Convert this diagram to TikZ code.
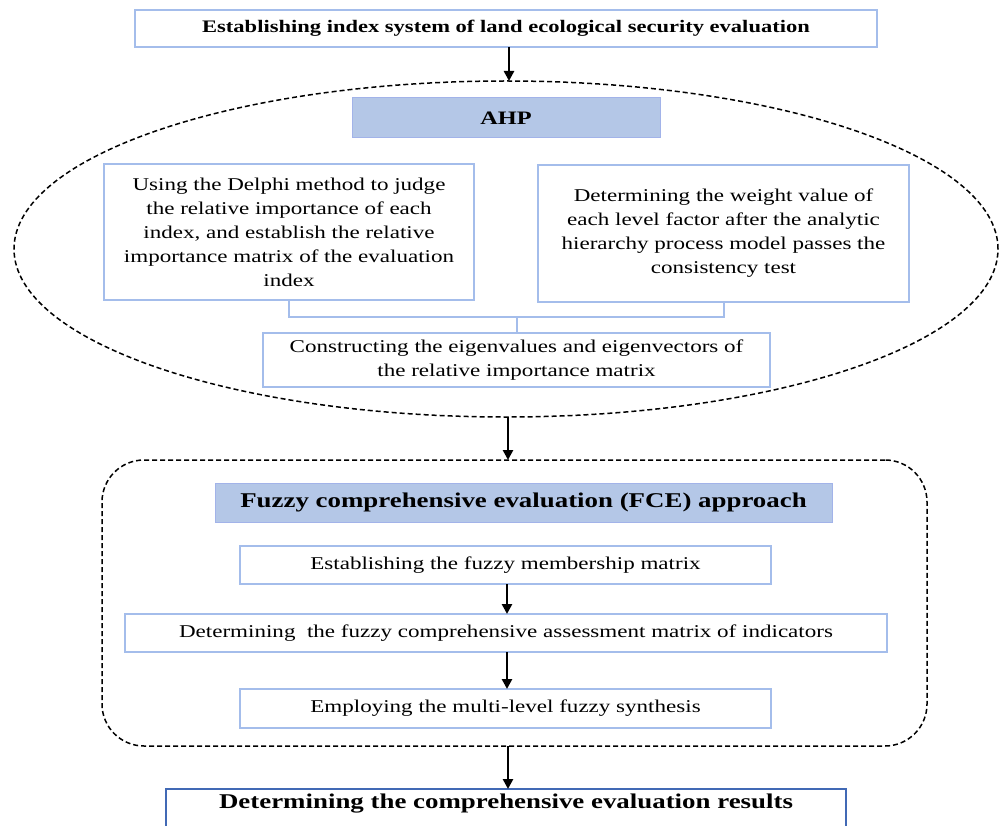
\documentclass[tikz,border=0pt]{standalone}
\usepackage{fontspec}
\setmainfont{Liberation Serif}[FakeStretch=1.28]
\usetikzlibrary{arrows.meta,shapes.geometric}
\definecolor{bord}{HTML}{A4BDEB}
\definecolor{fillb}{HTML}{B4C7E7}
\definecolor{darkb}{HTML}{4169B5}
\tikzset{
  box/.style={draw=bord, line width=2pt, fill=white, inner sep=0pt, outer sep=0pt, align=center,
    font=\fontsize{18pt}{24pt}\selectfont},
  headbox/.style={fill=fillb, draw=fillb!90!blue, line width=1pt, inner sep=0pt, outer sep=0pt, align=center},
  container/.style={draw=black, line width=1.5pt, dash pattern=on 5pt off 3pt, inner sep=0pt, outer sep=0pt},
  arr/.style={draw=black, line width=2.5pt, -{Triangle[length=10pt,width=10pt]}},
  link/.style={draw=bord, line width=2pt}
}
\begin{document}
\begin{tikzpicture}[x=1pt,y=-1pt]
\useasboundingbox (0,0) rectangle (1003,826);
\clip (0,0) rectangle (1003,826);
\fill[white] (0,0) rectangle (1003,826);

% top box
\node[box, minimum width=742pt, minimum height=37pt, font=\fontsize{17.6pt}{22pt}\selectfont\bfseries] (top) at (506,28.5)
  {Establishing index system of land ecological security evaluation};

% AHP ellipse
\node[container, ellipse, minimum width=984pt, minimum height=336pt] (ell) at (506,249) {};
\node[headbox, minimum width=308pt, minimum height=40pt, font=\fontsize{19pt}{24pt}\selectfont\bfseries] (ahp) at (506,118) {AHP};

\node[box, minimum width=370pt, minimum height=136pt] (left) at (289,232)
  {Using the Delphi method to judge\\the relative importance of each\\index, and establish the relative\\importance matrix of the evaluation\\index};
\node[box, minimum width=371pt, minimum height=137pt] (right) at (723.5,233.5)
  {Determining the weight value of\\each level factor after the analytic\\hierarchy process model passes the\\consistency test};
\node[box, minimum width=507pt, minimum height=54pt] (eig) at (516.5,360)
  {Constructing the eigenvalues and eigenvectors of\\the relative importance matrix};

\coordinate (jn) at (516.5,317);
\draw[link] (left.south) |- (jn) -| (right.south);
\draw[link] (jn) -- (eig.north);

% FCE container
\node[container, rounded corners=42pt, minimum width=825pt, minimum height=286pt] (fce) at (514.5,603) {};
\node[headbox, minimum width=617pt, minimum height=39pt, font=\fontsize{21pt}{26pt}\selectfont\bfseries] (fceh) at (523.5,502.5)
  {Fuzzy comprehensive evaluation (FCE) approach};
\node[box, minimum width=531pt, minimum height=38pt] (b1) at (505.5,565)
  {Establishing the fuzzy membership matrix};
\node[box, minimum width=762pt, minimum height=38pt] (b2) at (506,633)
  {Determining\ \ the fuzzy comprehensive assessment matrix of indicators};
\node[box, minimum width=531pt, minimum height=39pt] (b3) at (505.5,708.5)
  {Employing the multi-level fuzzy synthesis};

% result box
\node[box, draw=darkb, minimum width=680pt, minimum height=52pt, font=\fontsize{21pt}{26pt}\selectfont\bfseries,
  text height=15pt, text depth=28pt] (res) at (506,815)
  {Determining the comprehensive evaluation results};

% arrows
\draw[arr] (509,0 |- top.south) -- (509,0 |- ell.north);
\draw[arr] (508,0 |- ell.south) -- (508,0 |- fce.north);
\draw[arr] (507,0 |- b1.south) -- (507,0 |- b2.north);
\draw[arr] (507,0 |- b2.south) -- (507,0 |- b3.north);
\draw[arr] (508,0 |- fce.south) -- (508,0 |- res.north);
\end{tikzpicture}
\end{document}
